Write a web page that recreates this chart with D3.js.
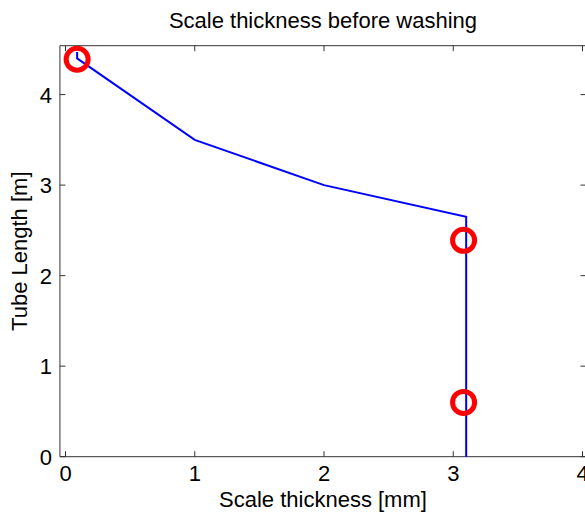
<!DOCTYPE html>
<html lang="en">
<head>
    <meta charset="UTF-8">
    <title>Scale thickness before washing</title>
    <script src="https://d3js.org/d3.v7.min.js"></script>
    <style>
        body {
            margin: 0;
            background-color: #ffffff;
            font-family: "Liberation Sans", Arial, sans-serif;
        }

        text {
            fill: #000;
            font-size: 22px;
        }

        .frame line {
            stroke: #333;
            stroke-width: 1px;
        }
    </style>
</head>
<body>
    <div id="chart"></div>

    <script>
        // Data
        const lineX = [0.09, 0.09, 1, 2, 3.1, 3.1];
        const lineY = [4.47, 4.4, 3.5, 3.0, 2.65, 0];

        const markX = [0.09, 3.08, 3.08];
        const markY = [4.39, 2.39, 0.6];

        const xTicks = [0, 1, 2, 3, 4];
        const yTicks = [0, 1, 2, 3, 4];
        const xLim = [-0.043, 4.027];
        const yLim = [0, 4.54];

        const width = 585;
        const height = 516;

        const svg = d3.select("#chart")
            .append("svg")
            .attr("width", width)
            .attr("height", height);

        // Scales (0 at 65.5px, 4 at 582.5px)
        const x = d3.scaleLinear().domain([0, 4]).range([65.5, 582.5]);
        const y = d3.scaleLinear().domain(yLim).range([456.7, 45.7]);

        const boxLeft = x(xLim[0]), boxRight = x(xLim[1]);
        const boxTop = y(yLim[1]), boxBottom = y(yLim[0]);
        const tick = 5.5;

        const frame = svg.append("g").attr("class", "frame");

        // Box
        frame.append("line").attr("x1", boxLeft).attr("x2", boxRight).attr("y1", boxTop).attr("y2", boxTop);
        frame.append("line").attr("x1", boxLeft).attr("x2", boxRight).attr("y1", boxBottom).attr("y2", boxBottom);
        frame.append("line").attr("x1", boxLeft).attr("x2", boxLeft).attr("y1", boxTop).attr("y2", boxBottom);
        frame.append("line").attr("x1", boxRight).attr("x2", boxRight).attr("y1", boxTop).attr("y2", boxBottom);

        // Inward ticks on all sides
        xTicks.forEach(t => {
            frame.append("line").attr("x1", x(t)).attr("x2", x(t)).attr("y1", boxBottom).attr("y2", boxBottom - tick);
            frame.append("line").attr("x1", x(t)).attr("x2", x(t)).attr("y1", boxTop).attr("y2", boxTop + tick);
        });
        yTicks.forEach(t => {
            frame.append("line").attr("x1", boxLeft).attr("x2", boxLeft + tick).attr("y1", y(t)).attr("y2", y(t));
            frame.append("line").attr("x1", boxRight).attr("x2", boxRight - tick).attr("y1", y(t)).attr("y2", y(t));
        });

        // Tick labels
        svg.append("g").selectAll("text")
            .data(xTicks)
            .enter()
            .append("text")
            .attr("x", d => x(d))
            .attr("y", boxBottom + 24)
            .attr("text-anchor", "middle")
            .text(d => d);

        svg.append("g").selectAll("text")
            .data(yTicks)
            .enter()
            .append("text")
            .attr("x", boxLeft - 8)
            .attr("y", d => y(d) + 8)
            .attr("text-anchor", "end")
            .text(d => d);

        // Data line
        const line = d3.line()
            .x(d => x(d[0]))
            .y(d => y(d[1]));

        svg.append("path")
            .datum(d3.zip(lineX, lineY))
            .attr("d", line)
            .attr("fill", "none")
            .attr("stroke", "#0000ff")
            .attr("stroke-width", 2);

        // Red circle markers
        svg.append("g").selectAll("circle")
            .data(d3.zip(markX, markY))
            .enter()
            .append("circle")
            .attr("cx", d => x(d[0]))
            .attr("cy", d => y(d[1]))
            .attr("r", 11)
            .attr("fill", "none")
            .attr("stroke", "#ff0000")
            .attr("stroke-width", 5);

        // Title and axis labels
        svg.append("text")
            .attr("x", (boxLeft + boxRight) / 2)
            .attr("y", 28)
            .attr("text-anchor", "middle")
            .text("Scale thickness before washing");

        svg.append("text")
            .attr("x", (boxLeft + boxRight) / 2)
            .attr("y", 507)
            .attr("text-anchor", "middle")
            .text("Scale thickness [mm]");

        svg.append("text")
            .attr("transform", `translate(27,${(boxTop + boxBottom) / 2}) rotate(-90)`)
            .attr("text-anchor", "middle")
            .text("Tube Length [m]");
    </script>
</body>
</html>
